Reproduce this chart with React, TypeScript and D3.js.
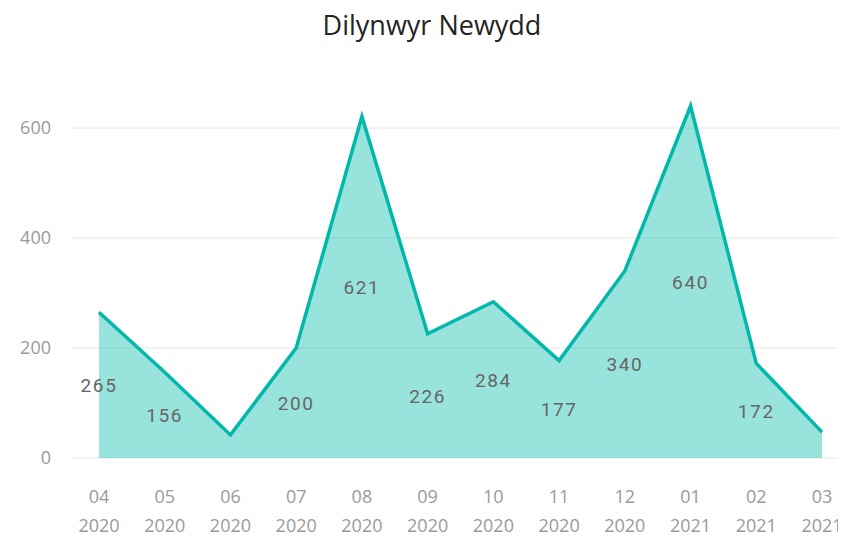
import React from "react";
import * as d3 from "d3";

const months = ["04", "05", "06", "07", "08", "09", "10", "11", "12", "01", "02", "03"];
const years = ["2020", "2020", "2020", "2020", "2020", "2020", "2020", "2020", "2020", "2021", "2021", "2021"];
const values = [265, 156, 42, 200, 621, 226, 284, 177, 340, 640, 172, 47];
const showLabel = [true, true, false, true, true, true, true, true, true, true, true, false];
const yTicks = [0, 200, 400, 600];

export default function App() {
  const W = 846, H = 542;
  const keys = months.map((m, i) => m + "-" + years[i]);
  const x = d3.scalePoint<string>().domain(keys).range([99, 822]);
  const y = d3.scaleLinear().domain([0, 600]).range([458, 128]);
  const pts: [number, number][] = values.map((v, i) => [x(keys[i]) as number, y(v)]);
  const line = d3.line<[number, number]>().x(d => d[0]).y(d => d[1])(pts) || "";
  const area = d3.area<[number, number]>().x(d => d[0]).y0(y(0)).y1(d => d[1])(pts) || "";
  return (
    <div style={{ margin: -8 }}>
      <svg width={W} height={H} style={{ display: "block", background: "#fff" }}>
        <text x={432} y={35} textAnchor="middle" fontFamily="'Open Sans', sans-serif" fontSize={27} fill="#252423">Dilynwyr Newydd</text>
        {yTicks.map(t => (
          <g key={t}>
            <line x1={72} x2={842} y1={y(t)} y2={y(t)} stroke="#e6e6e6" strokeWidth={1} />
            <text x={51} y={y(t)} dy="0.35em" textAnchor="end" fontFamily="'Open Sans', sans-serif" fontSize={18} fill="#9a9a9a">{t}</text>
          </g>
        ))}
        <path d={area} fill="#01B8AA" fillOpacity={0.4} />
        <path d={line} fill="none" stroke="#01B8AA" strokeWidth={3.5} strokeLinejoin="miter" />
        {values.map((v, i) => showLabel[i] ? (
          <text key={i} x={x(keys[i]) as number} y={y(v / 2)} dy="0.36em" textAnchor="middle" fontFamily="Roboto, sans-serif" fontSize={19} letterSpacing={1.6} fill="#666">{v}</text>
        ) : null)}
        {keys.map((k, i) => (
          <g key={k}>
            <text x={x(k) as number} y={503} textAnchor="middle" fontFamily="'Open Sans', sans-serif" fontSize={18} fill="#9a9a9a">{months[i]}</text>
            <text x={x(k) as number} y={532} textAnchor="middle" fontFamily="'Open Sans', sans-serif" fontSize={18} fill="#9a9a9a">{years[i]}</text>
          </g>
        ))}
      </svg>
    </div>
  );
}
